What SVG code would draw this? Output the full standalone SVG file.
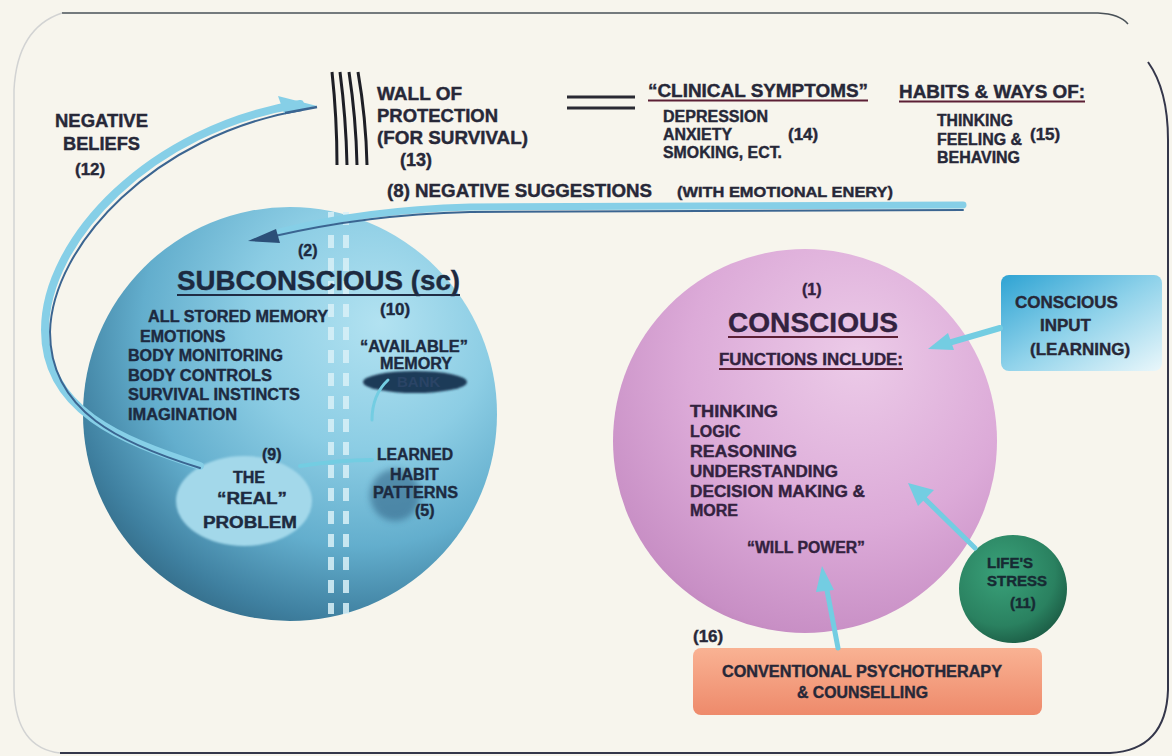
<svg xmlns="http://www.w3.org/2000/svg" width="1172" height="756" viewBox="0 0 1172 756">
<style>
text{font-family:"Liberation Sans",Arial,sans-serif;font-weight:bold;fill:#272838;stroke:#272838;stroke-width:0.4}
.t18{font-size:18px}
.t17{font-size:17px}
.t16{font-size:16px}
.t15{font-size:15px}
.sub{fill:#1d2a40;stroke:#1d2a40}
.con{fill:#33223f;stroke:#33223f}
.ul{stroke:#5c1f35;stroke-width:2}
.band{fill:none;stroke:#86cfe7;stroke-linecap:round}
.dark{fill:none;stroke:#3b6591;stroke-width:2;stroke-linecap:round}
.cy{fill:none;stroke:#73cde2;stroke-linecap:round}
.wall{fill:none;stroke:#1e1f26;stroke-width:3}
</style>
<defs>
<radialGradient id="gSub" cx="0.64" cy="0.3" r="0.85" fx="0.72" fy="0.28">
<stop offset="0" stop-color="#b2e2f1"/>
<stop offset="0.35" stop-color="#8ccde4"/>
<stop offset="0.62" stop-color="#63aecd"/>
<stop offset="0.82" stop-color="#3f80a0"/>
<stop offset="1" stop-color="#27566e"/>
</radialGradient>
<radialGradient id="gCon" cx="0.6" cy="0.32" r="0.85" fx="0.64" fy="0.28">
<stop offset="0" stop-color="#eccbe8"/>
<stop offset="0.5" stop-color="#dcaad8"/>
<stop offset="0.82" stop-color="#c88fc5"/>
<stop offset="1" stop-color="#ad6fa6"/>
</radialGradient>
<radialGradient id="gLife" cx="0.4" cy="0.35" r="0.7">
<stop offset="0" stop-color="#3aa27a"/>
<stop offset="0.7" stop-color="#2a8160"/>
<stop offset="1" stop-color="#1b5b44"/>
</radialGradient>
<linearGradient id="gIn" x1="0" y1="0" x2="1" y2="1">
<stop offset="0" stop-color="#2ea3d3"/>
<stop offset="0.5" stop-color="#8fd2ea"/>
<stop offset="1" stop-color="#eaf7fb"/>
</linearGradient>
<linearGradient id="gPsy" x1="0" y1="0" x2="0" y2="1">
<stop offset="0" stop-color="#f9b293"/>
<stop offset="1" stop-color="#ee8a6b"/>
</linearGradient>
<filter id="blur" x="-20%" y="-20%" width="140%" height="140%"><feGaussianBlur stdDeviation="3"/></filter>
<filter id="blur1" x="-20%" y="-20%" width="140%" height="140%"><feGaussianBlur stdDeviation="1"/></filter>
</defs>

<rect width="1172" height="756" fill="#f7f5ed"/>

<g id="frame" fill="none">
<path d="M62,13 L1098,13 Q1120,14 1128,24" stroke="#4a5258" stroke-width="1.5"/>
<path d="M1148,62 Q1168,90 1168,140 L1168,690 Q1166,750 1110,753 L60,753" stroke="#34364a" stroke-width="2"/>
<path d="M60,753 Q16,748 14,690 L14,90 Q17,28 62,13" stroke="#d2d3d3" stroke-width="1.5"/>
</g>

<g id="subconscious">
<circle cx="290" cy="414" r="207" fill="url(#gSub)"/>
<g stroke="#d9f1f8" stroke-width="6" stroke-dasharray="13 10" fill="none" opacity="0.85">
<line x1="331" y1="212" x2="331" y2="614"/>
<line x1="346" y1="212" x2="346" y2="614"/>
</g>
<text x="177" y="290" style="font-size:27px" class="sub" textLength="283" lengthAdjust="spacingAndGlyphs">SUBCONSCIOUS (sc)</text>
<line x1="177" y1="295" x2="460" y2="295" stroke="#1f2c44" stroke-width="2"/>
<text x="380" y="315" class="t17 sub">(10)</text>
<text x="148" y="322" class="t16 sub" textLength="180" lengthAdjust="spacingAndGlyphs">ALL STORED MEMORY</text>
<text x="140" y="342" class="t16 sub">EMOTIONS</text>
<text x="128" y="361" class="t16 sub" textLength="155" lengthAdjust="spacingAndGlyphs">BODY MONITORING</text>
<text x="128" y="381" class="t16 sub" textLength="144" lengthAdjust="spacingAndGlyphs">BODY CONTROLS</text>
<text x="128" y="400" class="t16 sub" textLength="172" lengthAdjust="spacingAndGlyphs">SURVIVAL INSTINCTS</text>
<text x="128" y="420" class="t16 sub" textLength="109" lengthAdjust="spacingAndGlyphs">IMAGINATION</text>
</g>

<g id="memory-bank">
<ellipse cx="415" cy="382" rx="52" ry="11" fill="#1f3a58" filter="url(#blur1)"/>
<text x="360" y="352" class="t16 sub" textLength="108" lengthAdjust="spacingAndGlyphs">“AVAILABLE”</text>
<text x="380" y="369" class="t16 sub" textLength="72" lengthAdjust="spacingAndGlyphs">MEMORY</text>
<text x="397" y="387" class="t15" style="fill:#2a4466;stroke:none">BANK</text>
</g>

<g id="real-problem">
<ellipse cx="244" cy="501" rx="68" ry="45" fill="#a3d8ea" filter="url(#blur1)"/>
<text x="262" y="460" class="t16 sub">(9)</text>
<text x="233" y="483" class="t16 sub">THE</text>
<text x="217" y="504" class="t16 sub" textLength="70" lengthAdjust="spacingAndGlyphs">“REAL”</text>
<text x="203" y="528" class="t16 sub" textLength="94" lengthAdjust="spacingAndGlyphs">PROBLEM</text>
</g>

<g id="learned-habits">
<ellipse cx="395" cy="495" rx="25" ry="26" fill="#2f5f82" opacity="0.55" filter="url(#blur)"/>
<text x="377" y="460" class="t16 sub" textLength="76" lengthAdjust="spacingAndGlyphs">LEARNED</text>
<text x="390" y="480" class="t16 sub">HABIT</text>
<text x="373" y="498" class="t16 sub" textLength="85" lengthAdjust="spacingAndGlyphs">PATTERNS</text>
<text x="415" y="516" class="t16 sub">(5)</text>
</g>

<g id="conscious">
<circle cx="805" cy="441" r="192" fill="url(#gCon)"/>
<text x="802" y="295" class="t16 con">(1)</text>
<text x="728" y="332" style="font-size:28px" class="con" textLength="170" lengthAdjust="spacingAndGlyphs">CONSCIOUS</text>
<line x1="728" y1="337" x2="898" y2="337" class="ul"/>
<text x="719" y="365" class="t17 con" textLength="184" lengthAdjust="spacingAndGlyphs">FUNCTIONS INCLUDE:</text>
<line x1="719" y1="369" x2="903" y2="369" class="ul"/>
<text x="690" y="417" class="t16 con" textLength="88" lengthAdjust="spacingAndGlyphs">THINKING</text>
<text x="690" y="437" class="t16 con">LOGIC</text>
<text x="690" y="457" class="t16 con" textLength="107" lengthAdjust="spacingAndGlyphs">REASONING</text>
<text x="690" y="477" class="t16 con" textLength="148" lengthAdjust="spacingAndGlyphs">UNDERSTANDING</text>
<text x="690" y="497" class="t16 con" textLength="175" lengthAdjust="spacingAndGlyphs">DECISION MAKING &amp;</text>
<text x="690" y="516" class="t16 con">MORE</text>
<text x="747" y="553" class="t16 con" textLength="118" lengthAdjust="spacingAndGlyphs">“WILL POWER”</text>
</g>

<g id="conscious-input">
<rect x="1001" y="275" width="161" height="96" rx="8" fill="url(#gIn)"/>
<text x="1015" y="308" class="t17">CONSCIOUS</text>
<text x="1040" y="331" class="t17">INPUT</text>
<text x="1030" y="355" class="t17">(LEARNING)</text>
</g>

<g id="lifes-stress">
<circle cx="1013" cy="589" r="54" fill="url(#gLife)"/>
<text x="987" y="568" class="t15" style="fill:#172a33;stroke:#172a33">LIFE'S</text>
<text x="987" y="586" class="t15" style="fill:#172a33;stroke:#172a33">STRESS</text>
<text x="1010" y="608" class="t15" style="fill:#172a33;stroke:#172a33">(11)</text>
</g>

<g id="psychotherapy">
<text x="693" y="642" class="t17">(16)</text>
<rect x="693" y="648" width="349" height="67" rx="8" fill="url(#gPsy)"/>
<text x="722" y="677" class="t16" textLength="280" lengthAdjust="spacingAndGlyphs">CONVENTIONAL PSYCHOTHERAPY</text>
<text x="797" y="698" class="t16" textLength="131" lengthAdjust="spacingAndGlyphs">&amp; COUNSELLING</text>
</g>

<g id="negative-beliefs">
<text x="55" y="127" class="t18" textLength="93" lengthAdjust="spacingAndGlyphs">NEGATIVE</text>
<text x="63" y="150" class="t18" textLength="77" lengthAdjust="spacingAndGlyphs">BELIEFS</text>
<text x="75" y="175" class="t17">(12)</text>
</g>

<g id="wall">
<path class="wall" d="M332,72 Q337,118 337,165"/>
<path class="wall" d="M340,72 Q346,118 347,165"/>
<path class="wall" d="M349,72 Q356,118 357,165"/>
<path class="wall" d="M358,72 Q366,118 367,165"/>
<text x="377" y="100" class="t18" textLength="85" lengthAdjust="spacingAndGlyphs">WALL OF</text>
<text x="377" y="122" class="t18" textLength="121" lengthAdjust="spacingAndGlyphs">PROTECTION</text>
<text x="377" y="144" class="t18" textLength="151" lengthAdjust="spacingAndGlyphs">(FOR SURVIVAL)</text>
<text x="400" y="166" class="t18">(13)</text>
<line x1="567" y1="97" x2="635" y2="97" stroke="#2a2a33" stroke-width="3"/>
<line x1="567" y1="108" x2="635" y2="108" stroke="#2a2a33" stroke-width="3"/>
</g>

<g id="clinical-symptoms">
<text x="648" y="97" class="t18" textLength="220" lengthAdjust="spacingAndGlyphs">“CLINICAL SYMPTOMS”</text>
<line x1="648" y1="100.5" x2="868" y2="100.5" class="ul"/>
<text x="663" y="122" class="t16" textLength="105" lengthAdjust="spacingAndGlyphs">DEPRESSION</text>
<text x="663" y="140" class="t16" textLength="69" lengthAdjust="spacingAndGlyphs">ANXIETY</text>
<text x="663" y="158" class="t16" textLength="119" lengthAdjust="spacingAndGlyphs">SMOKING, ECT.</text>
<text x="788" y="140" class="t17">(14)</text>
</g>

<g id="habits">
<text x="899" y="98" class="t18" textLength="186" lengthAdjust="spacingAndGlyphs">HABITS &amp; WAYS OF:</text>
<line x1="899" y1="101.5" x2="1085" y2="101.5" class="ul"/>
<text x="937" y="126" class="t16" textLength="76" lengthAdjust="spacingAndGlyphs">THINKING</text>
<text x="937" y="145" class="t16" textLength="85" lengthAdjust="spacingAndGlyphs">FEELING &amp;</text>
<text x="937" y="163" class="t16" textLength="83" lengthAdjust="spacingAndGlyphs">BEHAVING</text>
<text x="1030" y="140" class="t17">(15)</text>
</g>

<g id="negative-suggestions">
<text x="387" y="197" class="t18" textLength="265" lengthAdjust="spacingAndGlyphs">(8) NEGATIVE SUGGESTIONS</text>
<text x="677" y="197" class="t15" textLength="216" lengthAdjust="spacingAndGlyphs">(WITH EMOTIONAL ENERY)</text>
<text x="298" y="256" class="t16 sub">(2)</text>
</g>

<g id="connectors">
<path class="band" stroke-width="8" d="M200,466 C120,440 45,410 45,330 C45,240 150,128 300,104"/>
<path class="dark" d="M200,468 C122,444 50,412 50,332 C52,245 155,135 302,110"/>
<polygon points="317,106 278,96 284,113" fill="#86cfe7"/>
<line x1="285" y1="113" x2="317" y2="107" stroke="#3b6591" stroke-width="2.5"/>

<path class="band" stroke-width="7" d="M963,205 L470,207 C400,209 340,216 280,232"/>
<path class="dark" d="M963,210 L470,212 C400,214 340,221 270,237"/>
<polygon points="248,241 276,229 280,243" fill="#2c4f78"/>

<path class="cy" stroke-width="4" d="M300,466 Q340,460 372,460"/>
<path class="cy" stroke-width="3" d="M372,420 Q372,395 388,380"/>

<line x1="1000" y1="328" x2="945" y2="344" class="cy" stroke-width="6"/>
<polygon points="928,349 948,333 954,350" fill="#73cde2"/>
<line x1="975" y1="548" x2="922" y2="496" class="cy" stroke-width="5"/>
<polygon points="908,483 934,490 918,506" fill="#73cde2"/>
<line x1="838" y1="648" x2="826" y2="585" class="cy" stroke-width="5"/>
<polygon points="822,566 834,590 816,592" fill="#73cde2"/>
</g>
</svg>
